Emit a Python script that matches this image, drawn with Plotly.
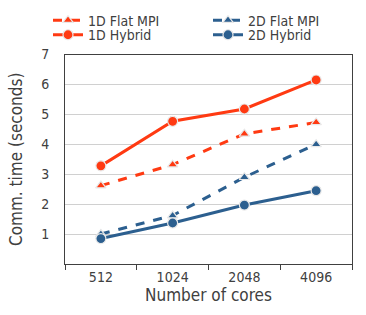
import plotly.graph_objects as go

cores = ["512", "1024", "2048", "4096"]
flat_1d = [2.62, 3.32, 4.35, 4.73]
flat_2d = [1.00, 1.62, 2.90, 4.00]
hybrid_1d = [3.28, 4.77, 5.18, 6.15]
hybrid_2d = [0.85, 1.37, 1.97, 2.45]

RED = "#FF3A12"
BLUE = "#2C5F8F"
FONT = "DejaVu Sans Condensed, DejaVu Sans"

W, H = 366, 315
ML, MR, MT, MB = 0, 14, 0, 51
PW, PH = W - ML - MR, H - MT - MB
PLOT_L, PLOT_T = 65, 48


def px_x(x):
    return (x - ML) / PW


def px_y(y):
    return (H - MB - y) / PH


fig = go.Figure()


def add(name, y, color, dash, symbol, msize, legend):
    fig.add_trace(go.Scatter(
        x=cores, y=y, name=name, mode="lines+markers", legend=legend,
        line=dict(color=color, width=3, dash=dash),
        marker=dict(symbol=symbol, size=msize, color=color,
                    line=dict(color="#E8E8E8", width=1.2)),
    ))


add("1D Flat MPI", flat_1d, RED, "dash", "triangle-up", 9, "legend")
add("1D Hybrid", hybrid_1d, RED, "solid", "circle", 10, "legend2")
add("2D Flat MPI", flat_2d, BLUE, "dash", "triangle-up", 9, "legend3")
add("2D Hybrid", hybrid_2d, BLUE, "solid", "circle", 10, "legend4")

leg = dict(orientation="v", xanchor="left", yanchor="middle", visible=True,
           font=dict(size=14, color="#404040"),
           itemwidth=30, bgcolor="rgba(0,0,0,0)", borderwidth=0)

fig.update_layout(
    width=W, height=H, showlegend=True,
    margin=dict(l=ML, r=MR, t=MT, b=MB),
    paper_bgcolor="white", plot_bgcolor="white",
    font=dict(family=FONT, size=14, color="#404040"),
    legend=dict(leg, x=px_x(48), y=px_y(13)),
    legend2=dict(leg, x=px_x(48), y=px_y(28)),
    legend3=dict(leg, x=px_x(208), y=px_y(13)),
    legend4=dict(leg, x=px_x(208), y=px_y(28)),
    xaxis=dict(
        domain=[px_x(PLOT_L), 1],
        type="category", showgrid=False, showline=True, linecolor="#404040",
        linewidth=1, mirror=True, ticks="outside", ticklen=5, tickcolor="#404040",
        tickson="boundaries", range=[-0.5, 3.5],
        title=dict(text="Number of cores", standoff=4),
    ),
    yaxis=dict(
        domain=[0, px_y(PLOT_T)],
        range=[0, 7], tickvals=[1, 2, 3, 4, 5, 6, 7], showgrid=True,
        gridcolor="#D0D0D0", gridwidth=1, showline=True, linecolor="#404040",
        linewidth=1, mirror=True, ticks="outside", ticklen=12,
        tickcolor="rgba(0,0,0,0)", zeroline=False,
        title=dict(text="Comm. time (seconds)", standoff=14),
    ),
)

fig.write_html("out.html", config={"displayModeBar": False},
               post_script="document.body.style.margin='0';document.body.style.overflow='hidden';")
